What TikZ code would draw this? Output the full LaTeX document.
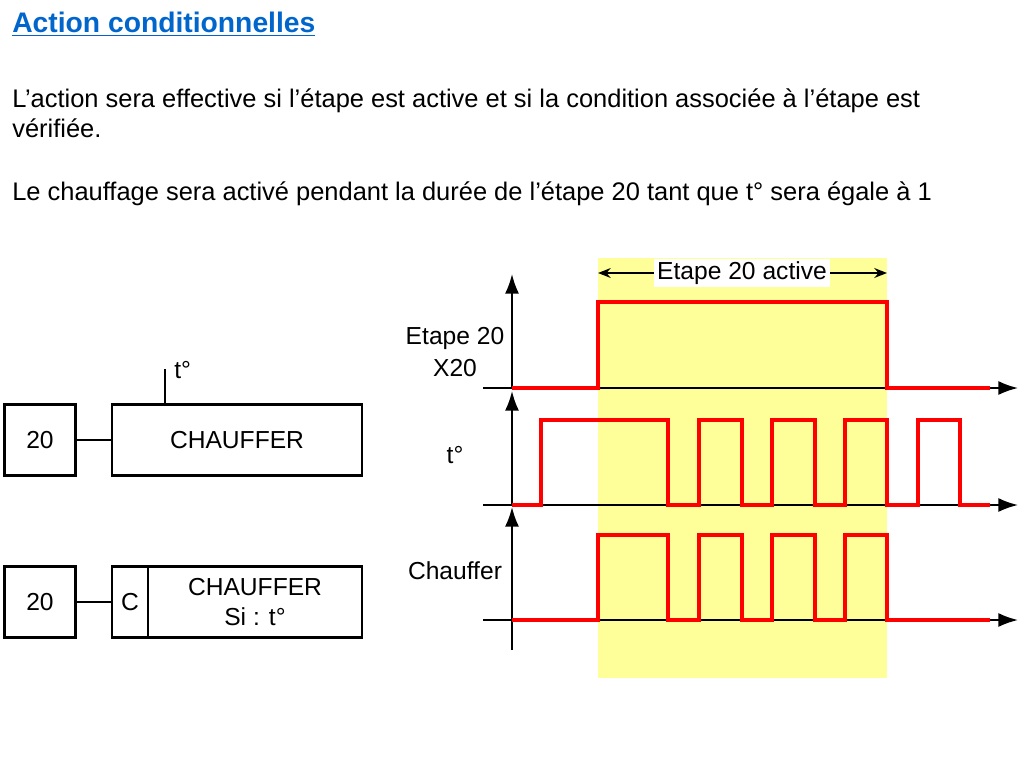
\documentclass[tikz,border=0pt]{standalone}
\usepackage{xcolor}
\usepackage{fontspec}
\setmainfont{Liberation Sans}
\usepackage{tikz}
\usetikzlibrary{arrows.meta}

\definecolor{titre}{RGB}{0,102,204}
\definecolor{jaune}{RGB}{255,255,153}

\tikzset{
  boite/.style={draw, line width=2pt, minimum height=1.775cm, inner sep=0pt},
  axe/.style={line width=1.4pt, -{Latex[length=14pt,width=10pt]}},
  signal/.style={red, line width=2.8pt, line join=miter},
  txt/.style={font=\fontsize{17.5}{20}\selectfont, inner sep=0pt},
  corps/.style={font=\fontsize{18.1}{21}\selectfont, inner sep=0pt, anchor=base west},
}

\begin{document}
\begin{tikzpicture}[x=0.025cm, y=-0.025cm]
\useasboundingbox (0,0) rectangle (1024,768);

% texte
\node[anchor=base west, inner sep=0pt, text=titre, font=\fontsize{20.1}{23}\selectfont\bfseries] (titre) at (12,33) {\underline{Action conditionnelles}};
\node[corps] (ligne1) at (12,108) {L’action sera effective si l’étape est active et si la condition associée à l’étape est};
\node[corps] (ligne2) at (12,138) {vérifiée.};
\node[corps] (ligne3) at (12,200) {Le chauffage sera activé pendant la durée de l’étape 20 tant que t° sera égale à 1};

% grafcet
\node[boite, txt, minimum width=1.775cm, minimum height=1.775cm] (e20a) at (40,440) {20};
\node[boite, txt, minimum width=6.25cm] (actA) at (237,440) {CHAUFFER};
\draw[line width=2pt] (e20a) -- (actA);
\coordinate (tp) at (165,369);
\draw[line width=2pt] (actA.north -| tp) -- (tp);
\node[txt, anchor=west] (ltp) at (174,370) {t°};

\node[boite, txt, minimum width=1.775cm, minimum height=1.775cm] (e20b) at (40,602) {20};
\node[boite, txt, minimum width=0.9cm] (cond) at (130,602) {C};
\node[boite, txt, minimum width=5.35cm, align=center] (actB) at (255,602) {CHAUFFER\\[2pt]Si : t°};
\draw[line width=2pt] (e20b) -- (cond);

% chronogramme
\fill[jaune] (598,258) rectangle (887,678);
\coordinate (ga) at (598,273);
\coordinate (dr) at (887,273);
\draw[line width=1.2pt, {Stealth[length=9pt,width=7pt]}-{Stealth[length=9pt,width=7pt]}] (ga) -- (dr);
\node[txt, fill=white, inner sep=2pt] (lact) at (742,273) {Etape 20 active};

\draw[axe] (483,388) -- (1018,388);
\draw[axe] (483,505) -- (1018,505);
\draw[axe] (483,620) -- (1018,620);
\draw[axe] (512,388) -- (512,274);
\draw[axe] (512,505) -- (512,391);
\draw[axe] (512,650) -- (512,507);

\draw[signal] (512,388) -- (598,388) -- (598,302) -- (887,302) -- (887,388) -- (990,388);
\draw[signal] (512,505) -- (541,505) -- (541,420) -- (668,420) -- (668,505)
  -- (699,505) -- (699,420) -- (742,420) -- (742,505)
  -- (772,505) -- (772,420) -- (815,420) -- (815,505)
  -- (845,505) -- (845,420) -- (887,420) -- (887,505)
  -- (918,505) -- (918,420) -- (960,420) -- (960,505) -- (990,505);
\draw[signal] (512,620) -- (598,620) -- (598,535) -- (668,535) -- (668,620)
  -- (699,620) -- (699,535) -- (742,535) -- (742,620)
  -- (772,620) -- (772,535) -- (815,535) -- (815,620)
  -- (845,620) -- (845,535) -- (887,535) -- (887,620) -- (990,620);

\node[txt, align=center] (letape) at (455,352) {Etape 20\\[3pt]X20};
\node[txt] (lt) at (455,455) {t°};
\node[txt] (lchauf) at (455,571) {Chauffer};
\end{tikzpicture}
\end{document}
